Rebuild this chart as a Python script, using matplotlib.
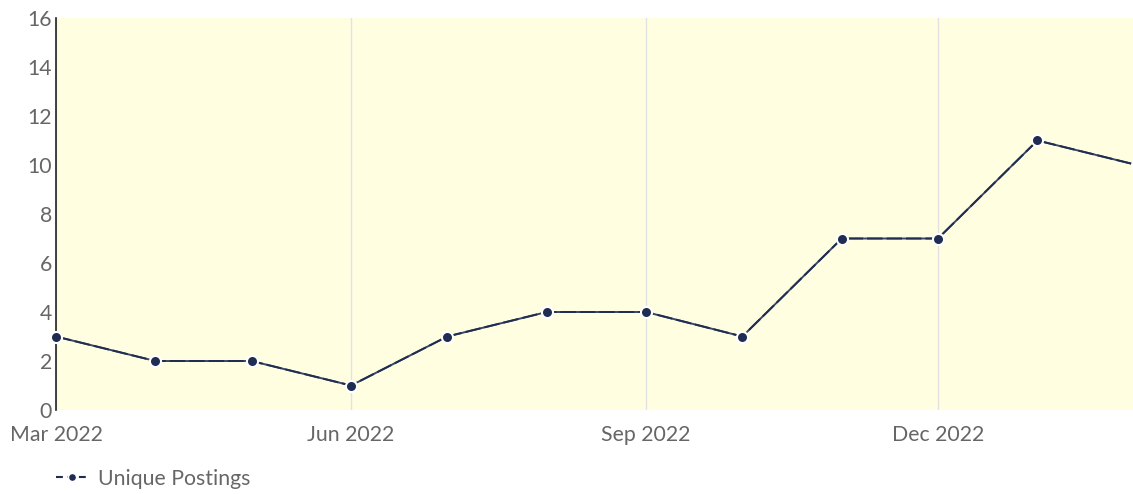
import matplotlib
matplotlib.use("Agg")
import matplotlib.pyplot as plt
from matplotlib.lines import Line2D
import pandas as pd

months = pd.date_range("2022-03-01", "2023-02-01", freq="MS")
postings = [3, 2, 2, 1, 3, 4, 4, 3, 7, 7, 11, 10]
tick_dates = pd.to_datetime(["2022-03-01", "2022-06-01", "2022-09-01", "2022-12-01"])
tick_labels = ["Mar 2022", "Jun 2022", "Sep 2022", "Dec 2022"]
y_ticks = [0, 2, 4, 6, 8, 10, 12, 14, 16]

plt.rcParams["font.family"] = ["Lato", "DejaVu Sans"]

line_color = "#1f2d52"
text_color = "#666666"
label_size = 15.3

fig = plt.figure(figsize=(11.33, 4.94), dpi=100)
# plot area runs slightly past the right edge of the canvas
ax = fig.add_axes([0.0494, 0.170, 0.9540, 0.7936])
ax.set_facecolor("#fffee0")

ax.plot(months, postings, color="#3a4766", lw=1.4, zorder=2)
ax.plot(months, postings, color=line_color, lw=1.4, ls=(0, (8, 2)), zorder=3)
ax.plot(months, postings, ls="none", marker="o", ms=8, mfc=line_color,
        mec="white", mew=1.5, zorder=4, clip_on=False)

ax.set_xlim(months[0], months[-1])
ax.set_ylim(0, 16)
ax.set_xticks(tick_dates)
ax.set_xticklabels(tick_labels)
ax.set_yticks(y_ticks)
ax.grid(axis="x", color="#e2e2e2", lw=1)
ax.grid(axis="y", visible=False)

for side in ["top", "right", "bottom"]:
    ax.spines[side].set_visible(False)
ax.spines["left"].set_color("#222222")
ax.spines["left"].set_linewidth(1.2)

ax.tick_params(axis="both", length=0, labelsize=label_size, colors=text_color)
ax.tick_params(axis="x", pad=11)
ax.tick_params(axis="y", pad=3)

handle = Line2D([], [], color=line_color, lw=1.5, ls=(0, (3.3, 2.2)), marker="o",
                ms=6, mfc=line_color, mec="white", mew=1.2)
fig.legend([handle], ["Unique Postings"], loc="center left",
           bbox_to_anchor=(0.049, 0.031), frameon=False, fontsize=label_size,
           labelcolor=text_color, handlelength=1.55, handletextpad=0.45,
           borderaxespad=0, borderpad=0)

fig.savefig("out.png", dpi=100)
